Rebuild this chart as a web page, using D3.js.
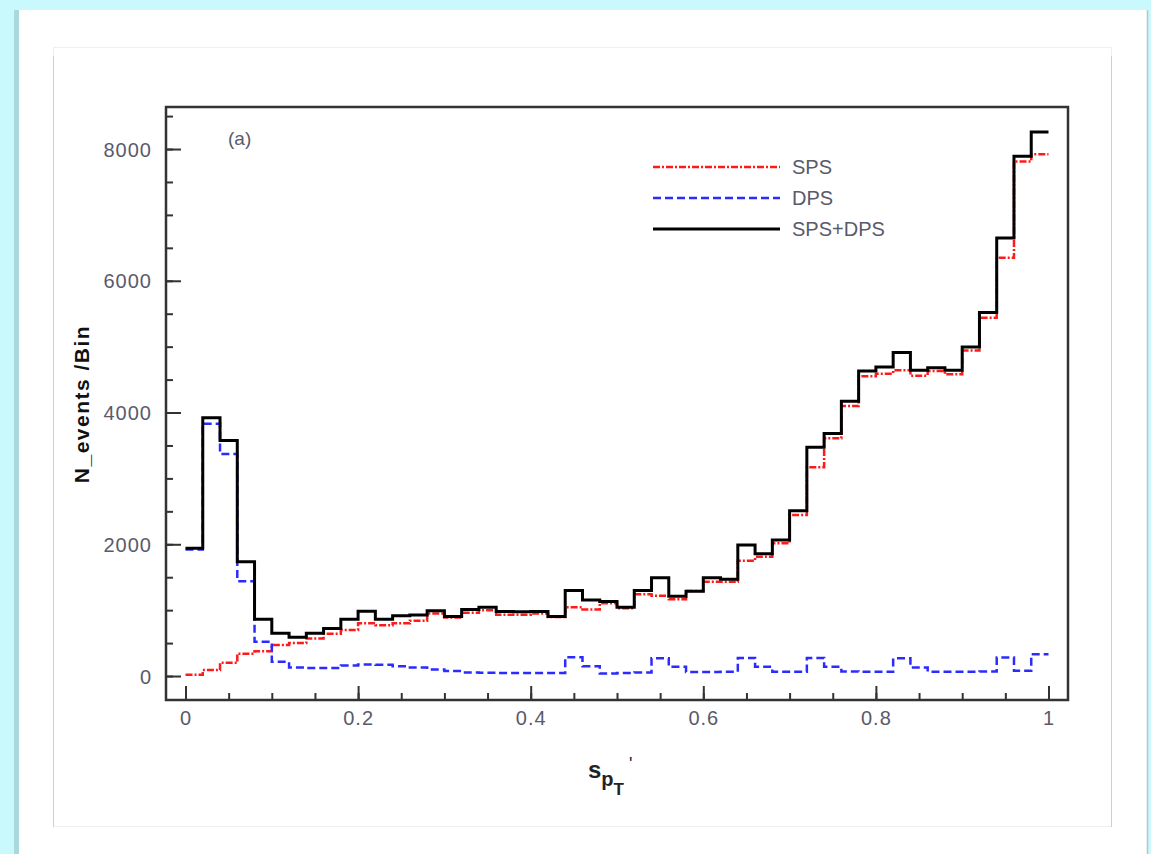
<!DOCTYPE html>
<html>
<head>
<meta charset="utf-8">
<script src="https://cdn.jsdelivr.net/npm/d3@7"></script>
<style>
	html, body { margin: 0; padding: 0; }
	body { width: 1151px; height: 854px; background: #c9f9fc; overflow: hidden; }
	#chart { position: absolute; left: 0; top: 0; }
</style>
</head>
<body>
<div id="chart"></div>
<script>
// bins of width 0.02 on [0, 1]
const binWidth = 0.02;
const sps = [20, 90, 200, 340, 375, 470, 500, 570, 640, 700, 800, 770, 800, 840, 950, 890, 960, 1000, 930, 930,
	950, 895, 1045, 1010, 1105, 1030, 1240, 1220, 1165, 1290, 1432, 1432, 1750, 1810, 2014, 2444, 3170, 3610, 4100, 4550,
	4590, 4640, 4560, 4630, 4580, 4940, 5440, 6350, 7810, 7920];
const dps = [1920, 3830, 3370, 1440, 520, 217, 130, 120, 120, 160, 175, 170, 150, 130, 100, 75, 55, 50, 45, 45,
	45, 45, 285, 150, 40, 45, 55, 270, 140, 60, 60, 65, 275, 140, 65, 65, 275, 140, 70, 65,
	65, 270, 130, 65, 65, 65, 70, 280, 80, 330];
const total = [1940, 3920, 3575, 1735, 860, 650, 590, 650, 720, 860, 985, 860, 915, 925, 990, 905, 1010, 1045, 980, 975,
	980, 905, 1300, 1155, 1130, 1045, 1300, 1490, 1210, 1285, 1490, 1470, 1990, 1855, 2064, 2509, 3471, 3680, 4170, 4630,
	4690, 4910, 4640, 4680, 4640, 4994, 5520, 6650, 7890, 8260];

const seriesNames = ["SPS", "DPS", "SPS+DPS"];
const xTicks = [0, 0.2, 0.4, 0.6, 0.8, 1];
const xTickLabels = ["0", "0.2", "0.4", "0.6", "0.8", "1"];
const yTicks = [0, 2000, 4000, 6000, 8000];
const yTickLabels = ["0", "2000", "4000", "6000", "8000"];

const W = 1151, H = 854;
const frame = {left: 166, right: 1068, top: 107, bottom: 700};

const svg = d3.select("#chart")
	.append("svg")
		.attr("width", W)
		.attr("height", H);

// page card + inner pad
svg.append("rect")
	.attr("x", 14).attr("y", 10)
	.attr("width", 6).attr("height", H)
	.style("fill", "#a9d9dc");
svg.append("rect")
	.attr("x", 19).attr("y", 10)
	.attr("width", 1128).attr("height", H)
	.style("fill", "#fff");
svg.append("line")
	.attr("x1", 1147.5).attr("x2", 1147.5)
	.attr("y1", 10).attr("y2", H)
	.style("stroke", "#b9c4c6")
	.style("stroke-width", 1.5);
svg.append("rect")
	.attr("x", 53.5).attr("y", 47.5)
	.attr("width", 1058).attr("height", 779)
	.style("fill", "#fff")
	.style("stroke", "#efefef");
svg.append("line")
	.attr("x1", 53.5).attr("x2", 53.5)
	.attr("y1", 56).attr("y2", 827)
	.style("stroke", "#cfcfcf");
svg.append("line")
	.attr("x1", 1111.5).attr("x2", 1111.5)
	.attr("y1", 56).attr("y2", 827)
	.style("stroke", "#cfcfcf");

const x = d3.scaleLinear()
	.domain([-0.0226, 1.0226])
	.range([frame.left, frame.right]);
const y = d3.scaleLinear()
	.domain([-364, 8638])
	.range([frame.bottom, frame.top]);

const tickFont = "'Liberation Sans', Arial, sans-serif";

// minor ticks
svg.append("g")
	.attr("class", "minor")
	.attr("transform", `translate(0, ${frame.bottom})`)
	.call(d3.axisBottom(x).tickValues(d3.range(0, 1.0001, 0.05)).tickSize(-7).tickFormat(""));
svg.append("g")
	.attr("class", "minor")
	.attr("transform", `translate(${frame.left}, 0)`)
	.call(d3.axisLeft(y).tickValues(d3.range(0, 8501, 500)).tickSize(-7).tickFormat(""));

// major ticks + labels
const xAxis = svg.append("g")
	.attr("class", "major")
	.attr("transform", `translate(0, ${frame.bottom})`)
	.call(d3.axisBottom(x).tickValues(xTicks).tickSize(-14).tickPadding(14)
		.tickFormat((d, i) => xTickLabels[i]));
const yAxis = svg.append("g")
	.attr("class", "major")
	.attr("transform", `translate(${frame.left}, 0)`)
	.call(d3.axisLeft(y).tickValues(yTicks).tickSize(-15).tickPadding(14)
		.tickFormat((d, i) => yTickLabels[i]));

svg.selectAll(".minor .domain, .major .domain").remove();
svg.selectAll(".minor line, .major line")
	.style("stroke", "#333")
	.style("stroke-width", 2);
svg.selectAll(".major text")
	.style("font-family", tickFont)
	.style("font-size", "20px")
	.style("letter-spacing", "1px")
	.style("fill", "#5a5a6a");
xAxis.selectAll("text").attr("dy", "0.55em");
yAxis.selectAll("text").attr("dy", "0.36em");

// histograms
const edges = sps.map((v, i) => i * binWidth);

function stepLine(values){
	const pts = values.map((v, i) => [edges[i], v]);
	pts.push([values.length * binWidth, values[values.length - 1]]);
	return d3.line()
		.x(d => x(d[0]))
		.y(d => y(d[1]))
		.curve(d3.curveStepAfter)(pts);
}

const styles = [
	{color: "#ff1a1a", width: 2.5, dash: "7,2,2,2"},
	{color: "#2b2bff", width: 2.5, dash: "8,4"},
	{color: "#000", width: 3, dash: null}
];

[sps, dps, total].forEach((vals, k) => {
	svg.append("path")
		.attr("d", stepLine(vals))
		.style("fill", "none")
		.style("stroke", styles[k].color)
		.style("stroke-width", styles[k].width)
		.style("stroke-dasharray", styles[k].dash);
});

// frame
svg.append("rect")
	.attr("x", frame.left).attr("y", frame.top)
	.attr("width", frame.right - frame.left)
	.attr("height", frame.bottom - frame.top)
	.style("fill", "none")
	.style("stroke", "#333")
	.style("stroke-width", 2.5);

// legend
seriesNames.forEach((name, k) => {
	const ly = 167 + k * 31;
	svg.append("line")
		.attr("x1", 653).attr("x2", 780)
		.attr("y1", ly).attr("y2", ly)
		.style("stroke", styles[k].color)
		.style("stroke-width", styles[k].width)
		.style("stroke-dasharray", styles[k].dash);
	svg.append("text")
		.attr("x", 792)
		.attr("y", ly + 7)
		.style("font-family", tickFont)
		.style("font-size", "20px")
		.style("fill", "#5a5a6a")
		.text(name);
});

// panel label
svg.append("text")
	.attr("x", 228)
	.attr("y", 145)
	.style("font-family", tickFont)
	.style("font-size", "19px")
	.style("fill", "#5a5a6a")
	.text("(a)");

// y title
svg.append("text")
	.attr("transform", "translate(89, 404) rotate(-90)")
	.attr("text-anchor", "middle")
	.style("font-family", tickFont)
	.style("font-size", "21px")
	.style("letter-spacing", "1.5px")
	.style("font-weight", "bold")
	.style("fill", "#111")
	.text("N_events /Bin");

// x title: s_{p_T}'
const xt = svg.append("text")
	.attr("x", 588)
	.attr("y", 778)
	.style("font-family", tickFont)
	.style("font-weight", "bold")
	.style("fill", "#222");
xt.append("tspan").style("font-size", "24px").text("s");
xt.append("tspan").attr("dy", 8).style("font-size", "20px").text("p");
xt.append("tspan").attr("dy", 9).style("font-size", "17px").text("T");
xt.append("tspan").attr("dx", 5).attr("dy", -25).style("font-size", "18px").style("font-weight", "normal").text("'");
</script>
</body>
</html>
